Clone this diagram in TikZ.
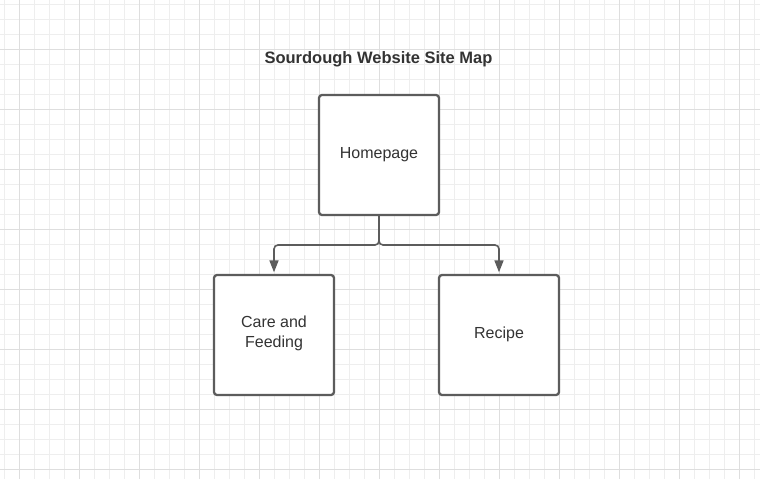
\documentclass[tikz,border=0pt]{standalone}
\usepackage{fontspec}
\setmainfont{Liberation Sans}
\usetikzlibrary{arrows.meta}
\definecolor{gridminor}{HTML}{EEEEEE}
\definecolor{gridmajor}{HTML}{DEDEDE}
\definecolor{boxline}{HTML}{5C5C5C}
\definecolor{textdark}{HTML}{333333}
\tikzset{
  page/.style={x=1pt,y=-1pt},
  pagebox/.style={draw=boxline, line width=2.3pt, fill=white, rounded corners=3pt,
    minimum width=120pt, minimum height=120pt, inner sep=0pt,
    align=center, text=textdark, font=\fontsize{16}{20}\selectfont},
  link/.style={draw=boxline, line width=1.6pt, rounded corners=4pt,
    -{Triangle[length=12pt,width=9pt]}, shorten >=1.5pt},
  heading/.style={text=textdark, font=\fontsize{16.5}{20}\selectfont\bfseries}
}
\newcommand{\lowstrut}[1]{\rule[-#1]{0pt}{1pt}}
\begin{document}
\begin{tikzpicture}[page]
  \useasboundingbox (0,0) rectangle (760,479);
  \fill[white] (0,0) rectangle (760,479);
  % background grid: fine lines every 15, heavier every 60
  \foreach \k in {0,...,50} {
    \draw[gridminor, line width=0.8pt] ({4.5+15*\k},0) -- ({4.5+15*\k},479);
  }
  \foreach \k in {0,...,31} {
    \draw[gridminor, line width=0.8pt] (0,{4.5+15*\k}) -- (760,{4.5+15*\k});
  }
  \foreach \k in {0,...,12} {
    \draw[gridmajor, line width=0.8pt] ({19.5+60*\k},0) -- ({19.5+60*\k},479);
  }
  \foreach \k in {0,...,7} {
    \draw[gridmajor, line width=0.8pt] (0,{49.5+60*\k}) -- (760,{49.5+60*\k});
  }

  \node[heading] (title) at (378.5,59) {Sourdough Website Site Map};

  \node[pagebox] (home)   at (379,155) {Homepage};
  \node[pagebox] (care)   at (274,335) {Care and\\Feeding\lowstrut{7pt}};
  \node[pagebox] (recipe) at (499,335) {Recipe\lowstrut{5.5pt}};

  \coordinate (split) at (379,245);
  \draw[link] (home.south) -- (split) -| (care.north);
  \draw[link] (home.south) -- (split) -| (recipe.north);
\end{tikzpicture}
\end{document}
